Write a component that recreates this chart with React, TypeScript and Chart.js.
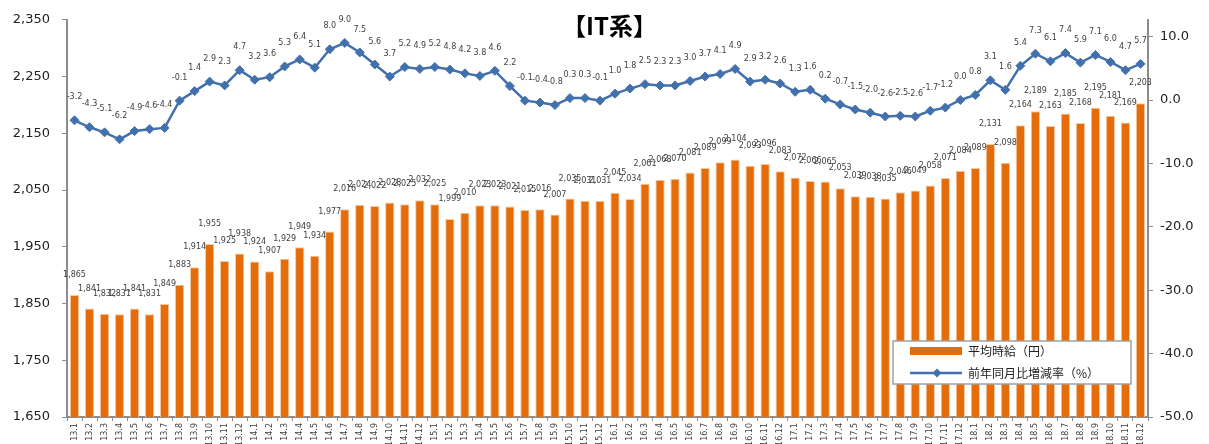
import React, { useEffect, useRef } from "react";
import { Chart, registerables } from "chart.js";

Chart.register(...registerables);

const categories = [
  "13.1","13.2","13.3","13.4","13.5","13.6","13.7","13.8","13.9","13.10","13.11","13.12",
  "14.1","14.2","14.3","14.4","14.5","14.6","14.7","14.8","14.9","14.10","14.11","14.12",
  "15.1","15.2","15.3","15.4","15.5","15.6","15.7","15.8","15.9","15.10","15.11","15.12",
  "16.1","16.2","16.3","16.4","16.5","16.6","16.7","16.8","16.9","16.10","16.11","16.12",
  "17.1","17.2","17.3","17.4","17.5","17.6","17.7","17.8","17.9","17.10","17.11","17.12",
  "18.1","18.2","18.3","18.4","18.5","18.6","18.7","18.8","18.9","18.10","18.11","18.12",
];

const wage = [
  1865, 1841, 1832, 1831, 1841, 1831, 1849, 1883, 1914, 1955, 1925, 1938,
  1924, 1907, 1929, 1949, 1934, 1977, 2016, 2024, 2022, 2028, 2025, 2032,
  2025, 1999, 2010, 2023, 2023, 2021, 2015, 2016, 2007, 2035, 2031, 2031,
  2045, 2034, 2061, 2068, 2070, 2081, 2089, 2099, 2104, 2093, 2096, 2083,
  2072, 2066, 2065, 2053, 2039, 2038, 2035, 2046, 2049, 2058, 2071, 2084,
  2089, 2131, 2098, 2164, 2189, 2163, 2185, 2168, 2195, 2181, 2169, 2203,
];

const yoy = [
  -3.2, -4.3, -5.1, -6.2, -4.9, -4.6, -4.4, -0.1, 1.4, 2.9, 2.3, 4.7,
  3.2, 3.6, 5.3, 6.4, 5.1, 8.0, 9.0, 7.5, 5.6, 3.7, 5.2, 4.9,
  5.2, 4.8, 4.2, 3.8, 4.6, 2.2, -0.1, -0.4, -0.8, 0.3, 0.3, -0.1,
  1.0, 1.8, 2.5, 2.3, 2.3, 3.0, 3.7, 4.1, 4.9, 2.9, 3.2, 2.6,
  1.3, 1.6, 0.2, -0.7, -1.5, -2.0, -2.6, -2.5, -2.6, -1.7, -1.2, 0.0,
  0.8, 3.1, 1.6, 5.4, 7.3, 6.1, 7.4, 5.9, 7.1, 6.0, 4.7, 5.7,
];

const rightTicks = [-50, -40, -30, -20, -10, 0, 10];

const TITLE = "【IT系】";
const LEGEND_BAR = "平均時給（円）";
const LEGEND_LINE = "前年同月比増減率（%）";

const BAR_COLOR = "#E46C0A";
const LINE_COLOR = "#4270AD";
const AXIS_COLOR = "#8C8C8C";
const NUM_FONT = "'DejaVu Sans', Verdana, sans-serif";
const CJK_FONT = "'Noto Sans CJK JP', 'Noto Sans', sans-serif";

const overlayPlugin = {
  id: "overlay",
  afterDatasetsDraw(chart: any) {
    const ctx = chart.ctx;
    ctx.save();
    ctx.font = `8px ${NUM_FONT}`;
    ctx.fillStyle = "#404040";
    ctx.textAlign = "center";
    ctx.textBaseline = "middle";
    const barMeta = chart.getDatasetMeta(1);
    barMeta.data.forEach((el: any, i: number) => {
      ctx.fillText(wage[i].toLocaleString("en-US"), el.x, el.y - 20);
    });
    const lineMeta = chart.getDatasetMeta(0);
    lineMeta.data.forEach((el: any, i: number) => {
      ctx.fillText(yoy[i].toFixed(1), el.x, el.y - 23);
    });

    // title
    const ca = chart.chartArea;
    ctx.font = `bold 24px ${CJK_FONT}`;
    ctx.fillStyle = "#000";
    ctx.fillText(TITLE, (ca.left + ca.right) / 2 + 2, 26);

    // legend box
    const lx = 893, ly = 341, lw = 238, lh = 43;
    ctx.fillStyle = "#fff";
    ctx.fillRect(lx, ly, lw, lh);
    ctx.strokeStyle = "#A0A0A0";
    ctx.lineWidth = 1.5;
    ctx.strokeRect(lx, ly, lw, lh);
    ctx.fillStyle = BAR_COLOR;
    ctx.fillRect(910, 347, 52, 8);
    ctx.strokeStyle = LINE_COLOR;
    ctx.lineWidth = 2.5;
    ctx.beginPath();
    ctx.moveTo(910, 373);
    ctx.lineTo(962, 373);
    ctx.stroke();
    ctx.fillStyle = LINE_COLOR;
    ctx.beginPath();
    ctx.moveTo(937, 368.5);
    ctx.lineTo(941.5, 373);
    ctx.lineTo(937, 377.5);
    ctx.lineTo(932.5, 373);
    ctx.closePath();
    ctx.fill();
    ctx.font = `12px ${CJK_FONT}`;
    ctx.fillStyle = "#222";
    ctx.textAlign = "left";
    ctx.fillText(LEGEND_BAR, 968, 351);
    ctx.fillText(LEGEND_LINE, 968, 373);
    ctx.restore();
  },
};

export default function App() {
  const ref = useRef<HTMLCanvasElement | null>(null);
  useEffect(() => {
    document.body.style.margin = "0";
    if (!ref.current) return;
    const chart = new Chart(ref.current, {
      type: "bar",
      data: {
        labels: categories,
        datasets: [
          {
            type: "line",
            label: LEGEND_LINE,
            data: yoy,
            yAxisID: "y1",
            borderColor: LINE_COLOR,
            backgroundColor: LINE_COLOR,
            borderWidth: 2.5,
            pointStyle: "rectRot",
            pointRadius: 4.5,
            pointBorderWidth: 1,
            pointBackgroundColor: LINE_COLOR,
            pointBorderColor: LINE_COLOR,
            tension: 0,
            order: 1,
          } as any,
          {
            type: "bar",
            label: LEGEND_BAR,
            data: wage,
            yAxisID: "y",
            backgroundColor: BAR_COLOR,
            borderColor: "#F5C9A2",
            borderWidth: { top: 1, left: 1, right: 1, bottom: 0 },
            barPercentage: 0.62,
            categoryPercentage: 1,
            order: 2,
          } as any,
        ],
      },
      options: {
        animation: false,
        responsive: true,
        maintainAspectRatio: false,
        layout: { padding: { top: 15, left: 0, right: 0, bottom: 0 } },
        plugins: {
          legend: { display: false },
          tooltip: { enabled: false },
          title: { display: false },
        },
        scales: {
          x: {
            offset: true,
            grid: {
              display: true,
              drawOnChartArea: false,
              drawTicks: true,
              tickLength: 4,
              color: AXIS_COLOR,
              offset: true,
            },
            border: { display: true, color: AXIS_COLOR, width: 2 },
            ticks: {
              autoSkip: false,
              maxRotation: 90,
              minRotation: 90,
              padding: 2,
              color: "#404040",
              font: { family: NUM_FONT, size: 8 },
            },
            afterFit: (s: any) => {
              s.height = 27;
            },
          },
          y: {
            position: "left",
            min: 1650,
            max: 2350,
            grid: {
              display: true,
              drawOnChartArea: false,
              drawTicks: true,
              tickLength: 5,
              color: AXIS_COLOR,
            },
            border: { display: true, color: AXIS_COLOR, width: 2 },
            ticks: {
              stepSize: 100,
              padding: 12,
              color: "#222",
              font: { family: NUM_FONT, size: 13 },
              callback: (v: any) => Number(v).toLocaleString("en-US"),
            },
            afterFit: (s: any) => {
              s.width = 67;
            },
          },
          y1: {
            position: "right",
            min: -50,
            max: 12.65,
            grid: {
              display: true,
              drawOnChartArea: false,
              drawTicks: true,
              tickLength: 5,
              color: AXIS_COLOR,
            },
            border: { display: true, color: AXIS_COLOR, width: 2 },
            afterBuildTicks: (s: any) => {
              s.ticks = rightTicks.map((v) => ({ value: v }));
            },
            ticks: {
              padding: 7,
              color: "#222",
              font: { family: NUM_FONT, size: 13 },
              callback: (v: any) => Number(v).toFixed(1),
            },
            afterFit: (s: any) => {
              s.width = 61;
            },
          },
        },
      },
      plugins: [overlayPlugin],
    });
    return () => chart.destroy();
  }, []);
  return (
    <div style={{ width: 1209, height: 444, position: "relative", background: "#fff" }}>
      <canvas ref={ref} />
    </div>
  );
}
